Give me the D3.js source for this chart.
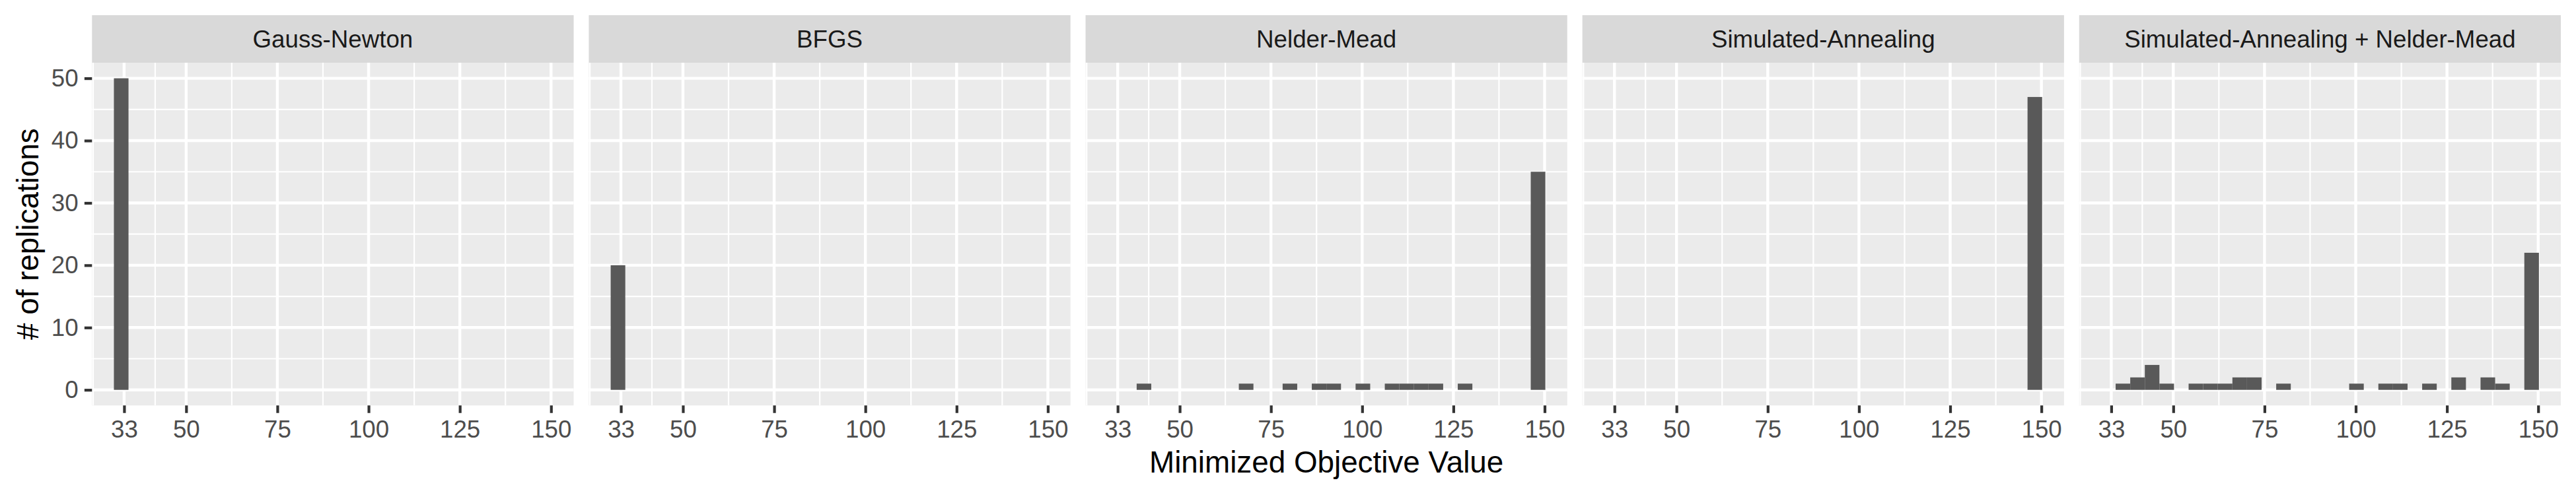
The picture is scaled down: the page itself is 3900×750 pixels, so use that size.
<!DOCTYPE html>
<html>
<head>
<meta charset="utf-8">
<script src="https://cdn.jsdelivr.net/npm/d3@7"></script>
<style>
  body { margin: 0; background: white; }
  text { font-family: "Liberation Sans", Arial, Helvetica, sans-serif; }
</style>
</head>
<body>
<div id="wrapper"></div>
<script>
// 1. Data (counts per histogram bin)

const methods = [
  "Gauss-Newton",
  "BFGS",
  "Nelder-Mead",
  "Simulated-Annealing",
  "Simulated-Annealing + Nelder-Mead"
]

// lower edge of each bin, bin width 4
const binStarts = [30.2, 34.2, 38.2, 42.2, 46.2, 50.2, 54.2, 58.2, 62.2, 66.2,
  70.2, 74.2, 78.2, 82.2, 86.2, 90.2, 94.2, 98.2, 102.2, 106.2,
  110.2, 114.2, 118.2, 122.2, 126.2, 130.2, 134.2, 138.2, 142.2, 146.2]
const binWidth = 4

const gaussNewtonCounts = [50, 0, 0, 0, 0, 0, 0, 0, 0, 0, 0, 0, 0, 0, 0, 0, 0, 0, 0, 0, 0, 0, 0, 0, 0, 0, 0, 0, 0, 0]
const bfgsCounts = [20, 0, 0, 0, 0, 0, 0, 0, 0, 0, 0, 0, 0, 0, 0, 0, 0, 0, 0, 0, 0, 0, 0, 0, 0, 0, 0, 0, 0, 0]
const nelderMeadCounts = [0, 0, 1, 0, 0, 0, 0, 0, 0, 1, 0, 0, 1, 0, 1, 1, 0, 1, 0, 1, 1, 1, 1, 0, 1, 0, 0, 0, 0, 35]
const annealingCounts = [0, 0, 0, 0, 0, 0, 0, 0, 0, 0, 0, 0, 0, 0, 0, 0, 0, 0, 0, 0, 0, 0, 0, 0, 0, 0, 0, 0, 0, 47]
const annealingNelderCounts = [0, 1, 2, 4, 1, 0, 1, 1, 1, 2, 2, 0, 1, 0, 0, 0, 0, 1, 0, 1, 1, 0, 1, 0, 2, 0, 2, 1, 0, 22]

const xTicks = [33, 50, 75, 100, 125, 150]
const xMinorTicks = [24.5, 41.5, 62.5, 87.5, 112.5, 137.5]
const yTicks = [0, 10, 20, 30, 40, 50]
const yMinorTicks = [5, 15, 25, 35, 45]

const countsByMethod = [gaussNewtonCounts, bfgsCounts, nelderMeadCounts, annealingCounts, annealingNelderCounts]

function drawFacets() {

  const xAccessor = d => d.x0
  const yAccessor = d => d.count

  // 2. Dimensions

  let dimensions = {
    width: 3900,
    height: 750,
    stripHeight: 72,
    panelGap: 22.9,
    margin: {
      top: 23,
      right: 23,
      bottom: 135.7,
      left: 139.3
    }
  }
  dimensions.boundedWidth = dimensions.width - dimensions.margin.left - dimensions.margin.right
  dimensions.panelWidth = (dimensions.boundedWidth - dimensions.panelGap * (methods.length - 1)) / methods.length
  dimensions.panelTop = dimensions.margin.top + dimensions.stripHeight
  dimensions.panelHeight = dimensions.height - dimensions.margin.bottom - dimensions.panelTop

  // 3. Canvas

  const wrapper = d3.select("#wrapper")
    .append("svg")
    .attr("width", dimensions.width)
    .attr("height", dimensions.height)

  // 4. Scales (shared by all facets)

  const xScale = d3.scaleLinear()
    .domain([24.2, 156.2])
    .range([0, dimensions.panelWidth])

  const yScale = d3.scaleLinear()
    .domain([-2.5, 52.5])
    .range([dimensions.panelHeight, 0])

  // 5. One panel per method

  methods.forEach((method, i) => {
    const bins = binStarts.map((x0, j) => ({ x0, x1: x0 + binWidth, count: countsByMethod[i][j] }))

    const panelX = dimensions.margin.left + i * (dimensions.panelWidth + dimensions.panelGap)

    // strip
    const strip = wrapper.append("g")
      .attr("transform", `translate(${panelX}, ${dimensions.margin.top})`)
    strip.append("rect")
      .attr("width", dimensions.panelWidth)
      .attr("height", dimensions.stripHeight)
      .attr("fill", "#d9d9d9")
    strip.append("text")
      .attr("x", dimensions.panelWidth / 2)
      .attr("y", dimensions.stripHeight / 2 + 13)
      .attr("text-anchor", "middle")
      .style("font-size", "36.7px")
      .style("fill", "#1a1a1a")
      .text(method)

    const bounds = wrapper.append("g")
      .attr("transform", `translate(${panelX}, ${dimensions.panelTop})`)

    bounds.append("rect")
      .attr("width", dimensions.panelWidth)
      .attr("height", dimensions.panelHeight)
      .attr("fill", "#ebebeb")

    // minor grid first, major on top
    bounds.selectAll(".x-minor")
      .data(xMinorTicks)
      .join("line")
      .attr("x1", xScale).attr("x2", xScale)
      .attr("y1", 0).attr("y2", dimensions.panelHeight)
      .attr("stroke", "white").attr("stroke-width", 2.2)
    bounds.selectAll(".y-minor")
      .data(yMinorTicks)
      .join("line")
      .attr("y1", yScale).attr("y2", yScale)
      .attr("x1", 0).attr("x2", dimensions.panelWidth)
      .attr("stroke", "white").attr("stroke-width", 2.2)
    bounds.selectAll(".x-major")
      .data(xTicks)
      .join("line")
      .attr("x1", xScale).attr("x2", xScale)
      .attr("y1", 0).attr("y2", dimensions.panelHeight)
      .attr("stroke", "white").attr("stroke-width", 4.4)
    bounds.selectAll(".y-major")
      .data(yTicks)
      .join("line")
      .attr("y1", yScale).attr("y2", yScale)
      .attr("x1", 0).attr("x2", dimensions.panelWidth)
      .attr("stroke", "white").attr("stroke-width", 4.4)

    // bars (empty bins skipped)
    bounds.append("g")
      .selectAll("rect")
      .data(bins.filter(yAccessor))
      .join("rect")
      .attr("x", d => xScale(xAccessor(d)))
      .attr("width", d => xScale(d.x1) - xScale(d.x0))
      .attr("y", d => yScale(yAccessor(d)))
      .attr("height", d => yScale(0) - yScale(yAccessor(d)))
      .attr("fill", "#595959")

    // x axis on every facet
    const xAxisGenerator = d3.axisBottom(xScale)
      .tickValues(xTicks)
      .tickSize(11.46)
      .tickPadding(11.5)
    const xAxis = bounds.append("g")
      .attr("transform", `translate(0, ${dimensions.panelHeight})`)
      .call(xAxisGenerator)
    styleAxis(xAxis)

    // y axis only on first facet
    if (i === 0) {
      const yAxisGenerator = d3.axisLeft(yScale)
        .tickValues(yTicks)
        .tickSize(11.46)
        .tickPadding(9.2)
      const yAxis = bounds.append("g").call(yAxisGenerator)
      styleAxis(yAxis)
    }
  })

  function styleAxis(axis) {
    axis.select(".domain").remove()
    axis.selectAll(".tick line")
      .attr("stroke", "#333333")
      .attr("stroke-width", 4.2)
    axis.selectAll(".tick text")
      .attr("fill", "#4d4d4d")
      .style("font-size", "36.7px")
      .style("font-family", "'Liberation Sans', Arial, Helvetica, sans-serif")
  }

  // 6. Axis titles

  wrapper.append("text")
    .attr("x", dimensions.margin.left + dimensions.boundedWidth / 2)
    .attr("y", 715.5)
    .attr("text-anchor", "middle")
    .style("font-size", "45.8px")
    .style("fill", "black")
    .text("Minimized Objective Value")

  wrapper.append("text")
    .attr("transform", `translate(58, ${dimensions.panelTop + dimensions.panelHeight / 2}) rotate(-90)`)
    .attr("text-anchor", "middle")
    .style("font-size", "45.8px")
    .style("fill", "black")
    .text("# of replications")
}
drawFacets()
</script>
</body>
</html>
